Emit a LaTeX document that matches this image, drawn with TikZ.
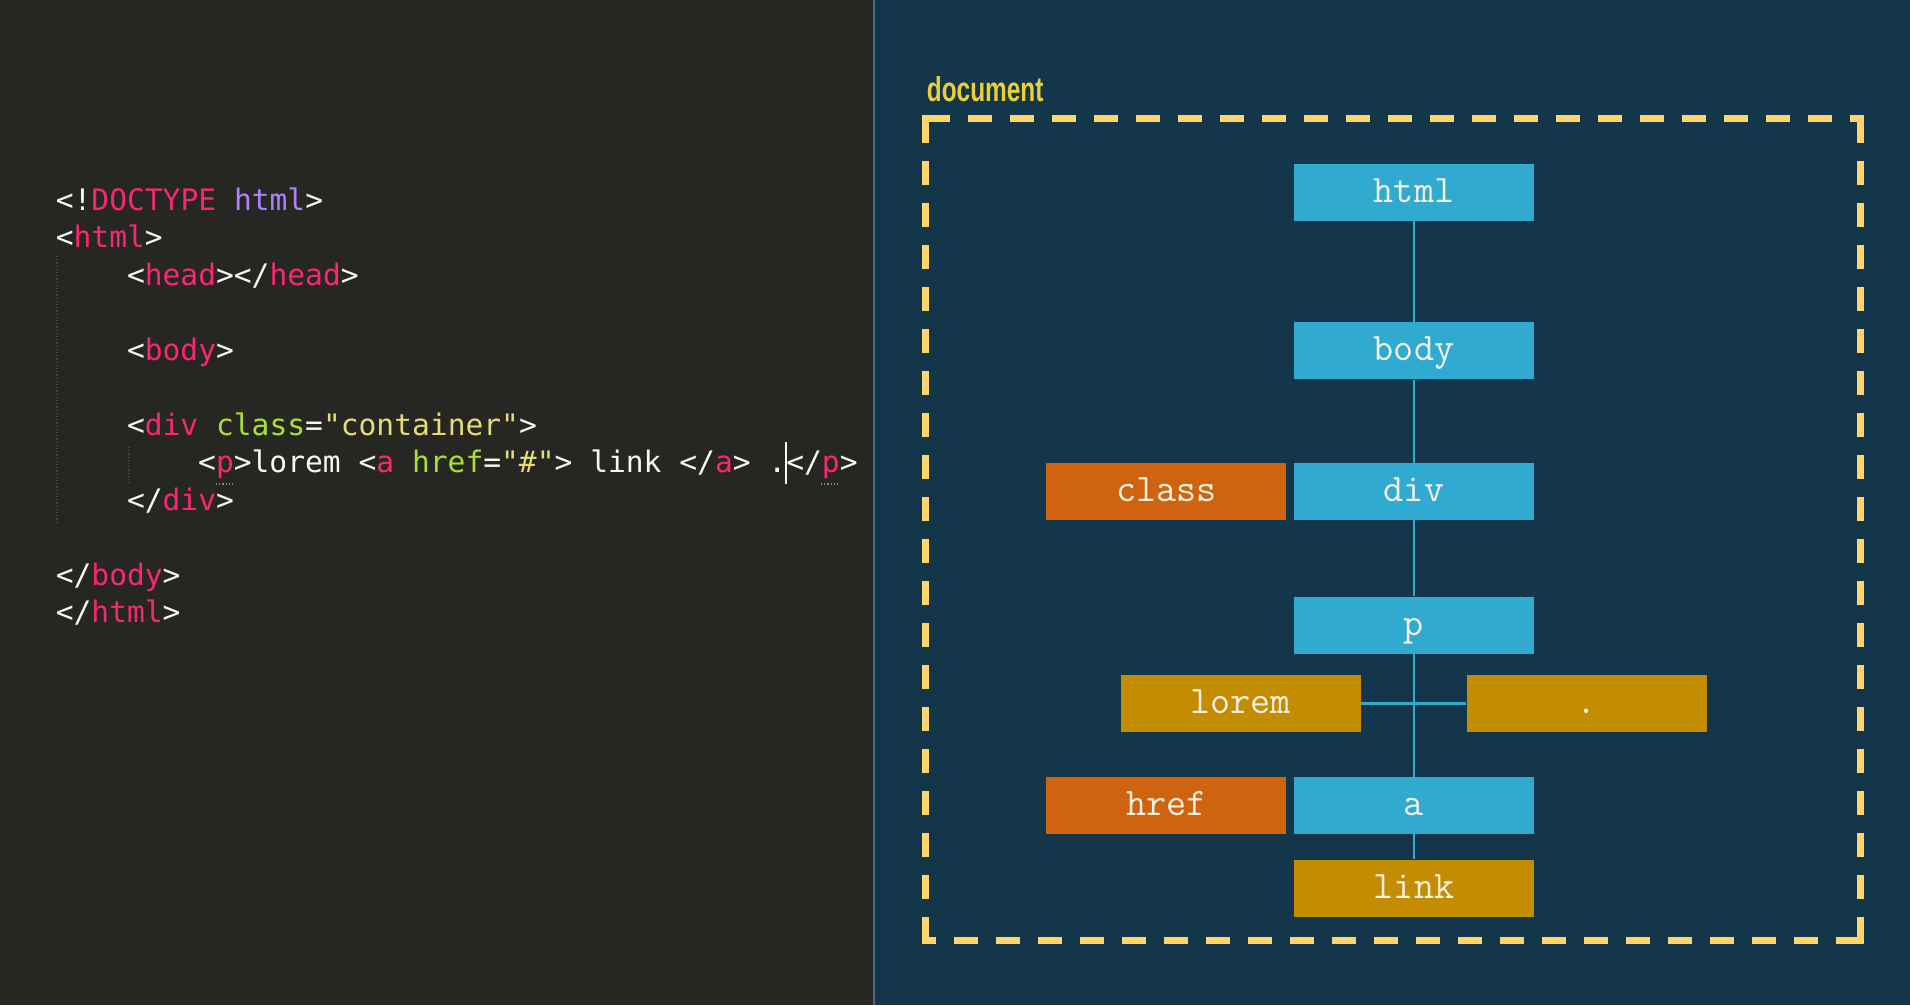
\documentclass[tikz,border=0pt]{standalone}
\usepackage{fontspec}
\usepackage{graphicx}
\newfontfamily\codefont{DejaVu Sans Mono}
\newfontfamily\labelfont{Liberation Sans}
\definecolor{leftbg}{HTML}{262622}
\definecolor{rightbg}{HTML}{13364A}
\definecolor{sepcol}{HTML}{4B6A8F}
\definecolor{cpink}{HTML}{F92672}
\definecolor{cpurple}{HTML}{AE81FF}
\definecolor{cgreen}{HTML}{A6E22E}
\definecolor{cyellow}{HTML}{E6DB74}
\definecolor{cwhite}{HTML}{F8F8F2}
\definecolor{boxcyan}{HTML}{31AAD2}
\definecolor{boxorange}{HTML}{D0630F}
\definecolor{boxgold}{HTML}{C48C00}
\definecolor{boxtext}{HTML}{F3F0E4}
\definecolor{dashyellow}{HTML}{FDD56A}
\definecolor{doclabelcol}{HTML}{ECCF36}
\definecolor{guidecol}{HTML}{45453F}
\definecolor{ulinecol}{HTML}{8A8A80}
\newcommand\hlpink[1]{\textcolor{cpink}{#1}}
\newcommand\hlpurple[1]{\textcolor{cpurple}{#1}}
\newcommand\hlgreen[1]{\textcolor{cgreen}{#1}}
\newcommand\hlyellow[1]{\textcolor{cyellow}{#1}}
\begin{document}
\begin{tikzpicture}[x=1pt,y=-1pt,
  codeline/.style={anchor=base west, inner sep=0pt, font=\codefont\fontsize{29.6}{36}\selectfont, text=cwhite},
  treebox/.style={minimum width=240pt, minimum height=57pt, inner sep=0pt, text height=24pt, text depth=4pt, font=\ttfamily\fontsize{39}{45}\selectfont, text=boxtext},
  elem/.style={treebox, fill=boxcyan},
  attr/.style={treebox, fill=boxorange},
  txtbox/.style={treebox, fill=boxgold},
  conn/.style={draw=boxcyan, line width=2.7pt},
  frameline/.style={draw=dashyellow, line width=6.7pt, dash pattern=on 24pt off 18pt},
  framecorner/.style={fill=dashyellow, minimum size=6.7pt, inner sep=0pt}
]
\useasboundingbox (0,0) rectangle (1910,1005);
\fill[leftbg] (0,0) rectangle (873,1005);
\fill[rightbg] (873,0) rectangle (1910,1005);
\draw[sepcol, line width=2.5pt] (874,0) -- (874,1005);

% indentation guides and highlights
\draw[guidecol, line width=1.2pt, dotted] (57,256) -- (57,522);
\draw[guidecol, line width=1.2pt, dotted] (129,447) -- (129,484);
\draw[ulinecol, line width=1.2pt, dotted] (216,484) -- (233,484);
\draw[ulinecol, line width=1.2pt, dotted] (821,484) -- (839,484);

% code
\node[codeline] (c0) at (55.6,210.0) {<!\hlpink{DOCTYPE} \hlpurple{html}>};
\node[codeline] (c1) at (55.6,247.5) {<\hlpink{html}>};
\node[codeline] (c2) at (126.8,285.0) {<\hlpink{head}></\hlpink{head}>};
\node[codeline] (c4) at (126.8,360.0) {<\hlpink{body}>};
\node[codeline] (c6) at (126.8,435.0) {<\hlpink{div} \hlgreen{class}=\hlyellow{"container"}>};
\node[codeline] (c7) at (198.0,472.5) {<\hlpink{p}>lorem <\hlpink{a} \hlgreen{href}=\hlyellow{"\#"}> link </\hlpink{a}> .</\hlpink{p}>};
\node[codeline] (c8) at (126.8,510.0) {</\hlpink{div}>};
\node[codeline] (c10) at (55.6,585.0) {</\hlpink{body}>};
\node[codeline] (c11) at (55.6,622.5) {</\hlpink{html}>};
\draw[cwhite, line width=1.5pt] (786,442) -- (786,484);

% document frame
\node[anchor=base west, inner sep=0pt, text=doclabelcol] (doclabel) at (926.7,101.7) {\resizebox{116.6pt}{25pt}{\labelfont\bfseries document}};
\node[inner sep=0pt, minimum width=934.3pt, minimum height=821pt] (doc) at (1392.85,529.5) {};
\draw[frameline] (doc.north west) -- (doc.north east);
\draw[frameline] (doc.north east) -- (doc.south east);
\draw[frameline] (doc.north west) -- (doc.south west);
\draw[frameline] (doc.south east) -- (doc.south west);
\node[framecorner] (cnw) at (doc.north west) {};
\node[framecorner] (cne) at (doc.north east) {};
\node[framecorner] (csw) at (doc.south west) {};
\node[framecorner] (cse) at (doc.south east) {};

% tree
\node[elem] (html) at (1414,192.7) {html};
\node[elem] (body) at (1414,350.8) {body};
\node[elem] (div) at (1414,491.5) {div};
\node[attr] (class) at (1166.3,491.5) {class};
\node[elem] (p) at (1414,625) {p};
\node[txtbox] (lorem) at (1240.6,703.4) {lorem};
\node[txtbox] (dot) at (1586.6,703.4) {.};
\node[attr] (href) at (1166.3,805.3) {href};
\node[elem] (a) at (1414,805.3) {a};
\node[txtbox] (link) at (1414,888) {link};

\draw[conn] (html) -- (body);
\draw[conn] (body) -- (div);
\draw[conn] (div) -- (p);
\draw[conn] (p) -- (a);
\draw[conn] (a) -- (link);
\draw[conn] (lorem) -- (dot);
\end{tikzpicture}
\end{document}
